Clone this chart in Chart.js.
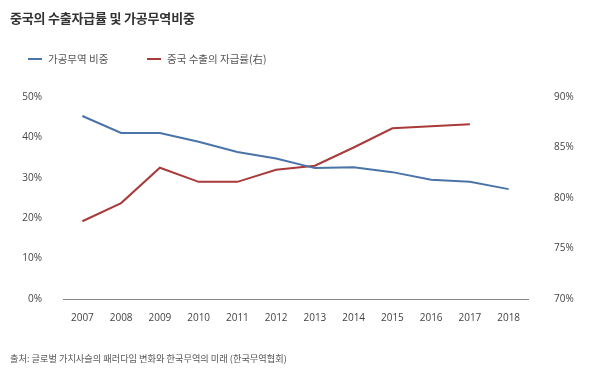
<!DOCTYPE html>
<html>
<head>
<meta charset="utf-8">
<script src="https://cdn.jsdelivr.net/npm/chart.js"></script>
<style>
  html, body { margin:0; padding:0; background:#fff; }
  #wrap { position:relative; width:600px; height:374px; overflow:hidden; font-family:"Noto Sans CJK KR","Noto Sans",sans-serif; }
  #c { position:absolute; left:0; top:0; }
  .title { position:absolute; left:10px; top:8px; font-size:13px; font-weight:bold; color:#333; line-height:20px; letter-spacing:-0.2px; white-space:nowrap; }
  .legend { position:absolute; top:51px; font-size:10.5px; color:#555; line-height:16px; white-space:nowrap; }
  .legend span.sw { display:inline-block; width:14px; height:2px; vertical-align:middle; margin-right:6px; position:relative; top:-1px; }
  .src { position:absolute; left:10px; top:350px; font-size:9.2px; color:#555; line-height:16px; white-space:nowrap; }
</style>
</head>
<body>
<div id="wrap">
  <canvas id="c" width="600" height="374"></canvas>
  <div class="title">중국의 수출자급률 및 가공무역비중</div>
  <div class="legend" style="left:28px"><span class="sw" style="background:#4a74a8"></span>가공무역 비중</div>
  <div class="legend" style="left:147px"><span class="sw" style="background:#a83a3a"></span>중국 수출의 자급률(右)</div>
  <div class="src">출처: 글로벌 가치사슬의 패러다임 변화와 한국무역의 미래 (한국무역협회)</div>
</div>
<script>
const years = ['2007','2008','2009','2010','2011','2012','2013','2014','2015','2016','2017','2018'];
const processingTradeShare = [45.3, 41.1, 41.1, 38.9, 36.4, 34.8, 32.4, 32.6, 31.4, 29.5, 29.0, 27.2];
const exportSelfSufficiency = [77.7, 79.5, 83.0, 81.6, 81.6, 82.8, 83.2, 85.0, 86.9, 87.1, 87.3, null];
const leftTicks = [0, 10, 20, 30, 40, 50];
const rightTicks = [70, 75, 80, 85, 90];

const tickFont = { family: '"Open Sans","Noto Sans",sans-serif', size: 10 };
new Chart(document.getElementById('c'), {
  type: 'line',
  data: {
    labels: years,
    datasets: [
      { label: '가공무역 비중', data: processingTradeShare, borderColor: '#4a74a8', borderWidth: 2, pointRadius: 0, tension: 0, yAxisID: 'y' },
      { label: '중국 수출의 자급률(右)', data: exportSelfSufficiency, borderColor: '#a83a3a', borderWidth: 2, pointRadius: 0, tension: 0, yAxisID: 'y1' }
    ]
  },
  options: {
    responsive: false,
    animation: false,
    layout: { padding: { top: 97, left: 0, right: 0, bottom: 0 } },
    plugins: { legend: { display: false }, title: { display: false }, tooltip: { enabled: false } },
    scales: {
      x: {
        offset: true,
        grid: { display: false },
        border: { display: true, color: '#888', width: 1 },
        ticks: { color: '#444', font: tickFont, padding: 5, maxRotation: 0, autoSkip: false },
        afterFit: s => { s.height = 75; }
      },
      y: {
        position: 'left', min: 0, max: 50,
        afterBuildTicks: s => { s.ticks = leftTicks.map(v => ({ value: v })); },
        grid: { display: false },
        border: { display: false },
        ticks: { color: '#444', font: tickFont, padding: 13, callback: v => v + '%' },
        afterFit: s => { s.width = 63; }
      },
      y1: {
        position: 'right', min: 70, max: 90,
        afterBuildTicks: s => { s.ticks = rightTicks.map(v => ({ value: v })); },
        grid: { display: false },
        border: { display: false },
        ticks: { color: '#444', font: tickFont, padding: 18, callback: v => v + '%' },
        afterFit: s => { s.width = 72; }
      }
    }
  }
});
</script>
</body>
</html>
